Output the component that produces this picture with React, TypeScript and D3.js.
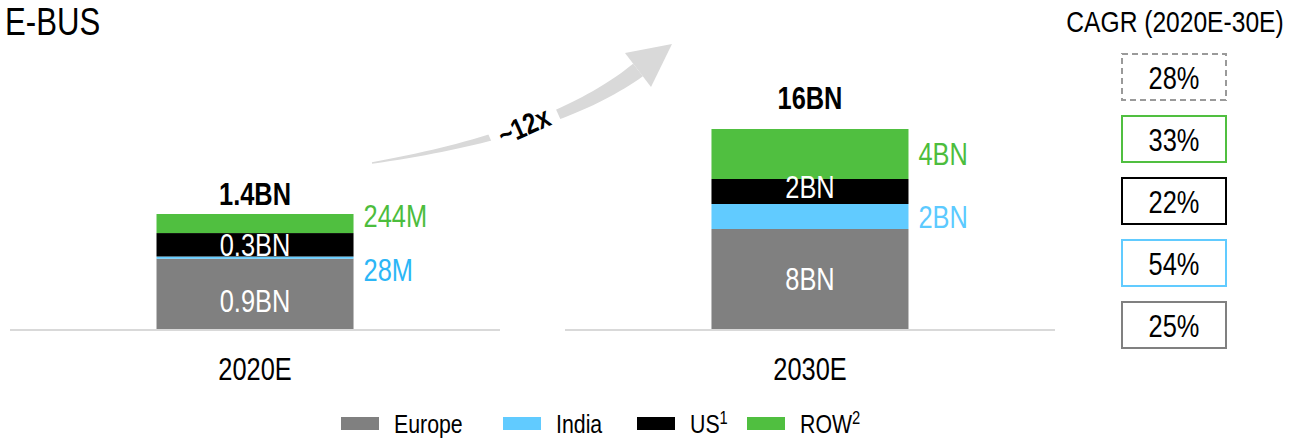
import * as d3 from 'd3';
import type { ReactNode } from 'react';

// data
const years = ['2020E', '2030E'];
const regions = ['Europe', 'India', 'US', 'ROW'];
const europe = [0.9, 8];
const india = [0.028, 2];
const us = [0.3, 2];
const rowVals = [0.244, 4];
const europeLabels = ['0.9BN', '8BN'];
const indiaLabels = ['28M', '2BN'];
const usLabels = ['0.3BN', '2BN'];
const rowLabels = ['244M', '4BN'];
const totalLabels = ['1.4BN', '16BN'];
const cagrSeries = ['Total', 'ROW', 'US', 'India', 'Europe'];
const cagrLabels = ['28%', '33%', '22%', '54%', '25%'];
const legendSup = ['', '', '1', '2'];
const growthLabel = '~12x';

// no narrow font installed, so squeeze Liberation Sans to Arial Narrow width
const FONT = '"Liberation Sans", Arial, sans-serif';
const SQUEEZE = 0.82;

const colors: Record<string, string> = {
  Europe: '#808080',
  India: '#61cbff',
  US: '#000000',
  ROW: '#50bf40',
  Total: '#9a9a9a',
};
const textColors: Record<string, string[]> = {
  ROW: ['#4cbd3d', '#4cbd3d'],
  India: ['#2cb6f6', '#5ccaff'],
};

const W = 1293;
const H = 440;
const baseY = 329;
const barHeights = [115, 200];

interface TProps {
  x: number;
  y: number;
  size: number;
  anchor?: 'start' | 'middle' | 'end';
  fill?: string;
  bold?: boolean;
  children: ReactNode;
}

const T = ({ x, y, size, anchor = 'start', fill = '#000', bold, children }: TProps) => (
  <text
    transform={`translate(${x},${y}) scale(${SQUEEZE},1)`}
    fontSize={size}
    textAnchor={anchor}
    fill={fill}
    fontWeight={bold ? 'bold' : 'normal'}
  >
    {children}
  </text>
);

export default function App() {
  const rows = years.map((year, i) => ({
    year,
    Europe: europe[i],
    India: india[i],
    US: us[i],
    ROW: rowVals[i],
  }));
  const labels: Record<string, string[]> = {
    Europe: europeLabels,
    India: indiaLabels,
    US: usLabels,
    ROW: rowLabels,
  };
  const inside: Record<string, boolean> = { Europe: true, India: false, US: true, ROW: false };
  // small manual nudges so the labels don't collide (per year)
  const nudge: Record<string, number[]> = { Europe: [7, 0], India: [12, 0], US: [0, -5], ROW: [-8, 0] };
  const totalGap = [9, 20];

  const stacked = d3.stack<any>().keys(regions)(rows);
  const totals = rows.map(r => regions.reduce((s, k) => s + (r as any)[k], 0));

  const x = d3
    .scaleBand<string>()
    .domain(years)
    .range([10, 1055])
    .paddingInner(0.645)
    .paddingOuter(0.264);

  const yScales = years.map((_, i) =>
    d3.scaleLinear().domain([0, totals[i]]).range([baseY, baseY - barHeights[i]])
  );

  // cagr boxes
  const cy = d3.scaleBand<string>().domain(cagrSeries).range([54, 348]).paddingInner(0.258);
  const boxX = 1122;
  const boxW = 104;

  // growth arrow (decoration)
  const p0 = [372, 163];
  const p1 = [555, 133.5];
  const p2 = [638, 70];
  const upper: [number, number][] = [];
  const lower: [number, number][] = [];
  d3.range(0, 1.0001, 0.025).forEach(t => {
    const px = (1 - t) * (1 - t) * p0[0] + 2 * (1 - t) * t * p1[0] + t * t * p2[0];
    const py = (1 - t) * (1 - t) * p0[1] + 2 * (1 - t) * t * p1[1] + t * t * p2[1];
    const dx = 2 * (1 - t) * (p1[0] - p0[0]) + 2 * t * (p2[0] - p1[0]);
    const dy = 2 * (1 - t) * (p1[1] - p0[1]) + 2 * t * (p2[1] - p1[1]);
    const len = Math.hypot(dx, dy);
    const nx = -dy / len;
    const ny = dx / len;
    const w = (1.5 + 14.5 * t) / 2;
    upper.push([px - nx * w, py - ny * w]);
    lower.push([px + nx * w, py + ny * w]);
  });
  const body = d3.line()([...upper, ...lower.reverse()]) + 'Z';
  const head = 'M625,53L672,44L651,87Z';

  const legendX = [341, 503, 637, 747];

  return (
    <svg
      width={W}
      height={H}
      style={{ position: 'absolute', left: 0, top: 0, fontFamily: FONT }}
    >
      <rect width={W} height={H} fill="#fff" />
      <T x={5} y={35} size={38}>E-BUS</T>

      {/* baselines */}
      {years.map(yr => {
        const c = x(yr)! + x.bandwidth() / 2;
        return (
          <line key={yr} x1={c - 245} x2={c + 245} y1={baseY + 1} y2={baseY + 1} stroke="#d9d9d9" strokeWidth={2} />
        );
      })}

      {/* bars */}
      {stacked.map(series =>
        series.map((d, i) => {
          const y = yScales[i];
          return (
            <rect
              key={series.key + i}
              x={x(years[i])}
              width={x.bandwidth()}
              y={y(d[1])}
              height={y(d[0]) - y(d[1])}
              fill={colors[series.key]}
            />
          );
        })
      )}

      {/* segment labels */}
      {stacked.map(series =>
        series.map((d, i) => {
          const y = yScales[i];
          const mid = (y(d[0]) + y(d[1])) / 2 + 11 + nudge[series.key][i];
          const isIn = inside[series.key];
          return (
            <T
              key={'l' + series.key + i}
              x={isIn ? x(years[i])! + x.bandwidth() / 2 : x(years[i])! + x.bandwidth() + 10}
              y={mid}
              size={31}
              anchor={isIn ? 'middle' : 'start'}
              fill={isIn ? '#fff' : textColors[series.key][i]}
            >
              {labels[series.key][i]}
            </T>
          );
        })
      )}

      {/* totals */}
      {years.map((yr, i) => (
        <T
          key={'t' + yr}
          x={x(yr)! + x.bandwidth() / 2}
          y={yScales[i](totals[i]) - totalGap[i]}
          size={31}
          bold
          anchor="middle"
        >
          {totalLabels[i]}
        </T>
      ))}

      {/* category axis labels */}
      {years.map(yr => (
        <T key={'c' + yr} x={x(yr)! + x.bandwidth() / 2} y={380} size={31} anchor="middle">
          {yr}
        </T>
      ))}

      {/* arrow */}
      <path d={body} fill="#d9d9d9" />
      <path d={head} fill="#d9d9d9" />
      <g transform="rotate(-24, 524, 126)">
        <rect x={524 - 36} y={126 - 18} width={72} height={36} fill="#fff" />
        <T x={524} y={136} size={29} bold anchor="middle">{growthLabel}</T>
      </g>

      {/* CAGR */}
      <T x={1175} y={32} size={30} anchor="middle">CAGR (2020E-30E)</T>
      {cagrSeries.map((k, i) => (
        <g key={'g' + k}>
          <rect
            x={boxX}
            y={cy(k)}
            width={boxW}
            height={cy.bandwidth()}
            fill="#fff"
            stroke={colors[k]}
            strokeWidth={2}
            strokeDasharray={k === 'Total' ? '6,4' : undefined}
          />
          <T x={boxX + boxW / 2} y={cy(k)! + cy.bandwidth() / 2 + 12} size={31} anchor="middle">
            {cagrLabels[i]}
          </T>
        </g>
      ))}

      {/* legend */}
      {regions.map((k, i) => (
        <g key={'lg' + k} transform={`translate(${legendX[i]},0)`}>
          <rect x={0} y={417} width={38} height={13} fill={colors[k]} />
          <T x={53} y={433} size={26}>
            {k}
            {legendSup[i] && (
              <tspan fontSize={18} dy={-9}>{legendSup[i]}</tspan>
            )}
          </T>
        </g>
      ))}
    </svg>
  );
}
